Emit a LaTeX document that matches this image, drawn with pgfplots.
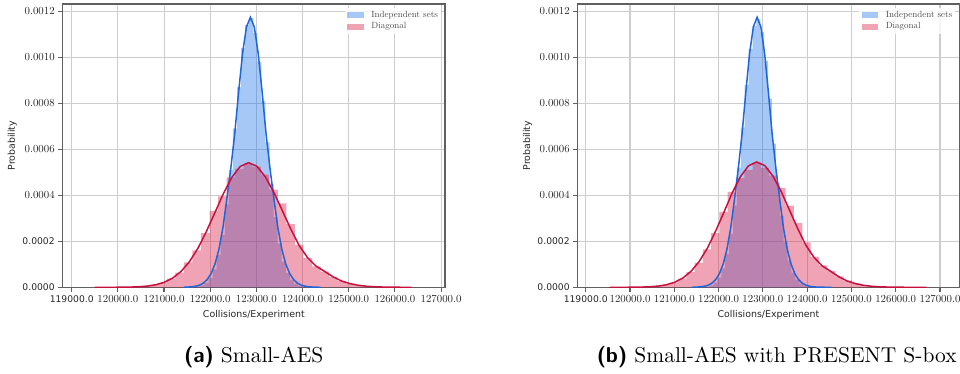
\documentclass[border=0pt]{standalone}
\usepackage{fontspec}
\usepackage{pgfplots}
\pgfplotsset{compat=1.18}
\newfontfamily\dejavu{DejaVu Sans}
\newfontfamily\lmten{lmroman10-regular.otf}
\newfontfamily\lmsansbf{lmsans10-bold.otf}
\definecolor{hblue}{HTML}{2075EB}
\definecolor{hpink}{HTML}{D91943}
\definecolor{lblue}{HTML}{1F66D6}
\definecolor{lred}{HTML}{C8103E}
\definecolor{gridgray}{HTML}{CDCDCD}
\definecolor{spine}{HTML}{606060}

\pgfplotstableread{
x y
121700 0.0000035
121788 0.0000085
121876 0.0000190
121964 0.0000400
122052 0.0000780
122140 0.0001400
122228 0.0002280
122316 0.0003600
122404 0.0005100
122492 0.0006900
122580 0.0008700
122668 0.0010400
122756 0.0011400
122844 0.0011700
122932 0.0011050
123020 0.0009800
123108 0.0008100
123196 0.0006300
123284 0.0004500
123372 0.0003050
123460 0.0001900
123548 0.0001120
123636 0.0000620
123724 0.0000320
123812 0.0000160
123900 0.0000075
123988 0.0000032
124076 0.0000012
124164 0
}\histblueA

\pgfplotstableread{
x y
120135 0.0000010
120320 0.0000022
120505 0.0000048
120690 0.0000100
120875 0.0000190
121060 0.0000380
121245 0.0000640
121430 0.0001080
121615 0.0001600
121800 0.0002350
121985 0.0003320
122170 0.0003950
122355 0.0004780
122540 0.0005150
122725 0.0005380
122910 0.0005250
123095 0.0004900
123280 0.0004250
123465 0.0003650
123650 0.0002750
123835 0.0001850
124020 0.0001280
124205 0.0000910
124390 0.0000680
124575 0.0000450
124760 0.0000270
124945 0.0000160
125130 0.0000085
125315 0.0000045
125500 0.0000020
125685 0.0000010
125870 0
}\histpinkA

\pgfplotstableread{
x y
121425 0
121452 0.0000004
121510 0.0000009
121595 0.0000020
121680 0.0000044
121765 0.0000091
121850 0.0000179
121935 0.0000337
122020 0.0000598
122105 0.0001020
122190 0.0001660
122275 0.0002590
122360 0.0003840
122445 0.0005160
122530 0.0006660
122615 0.0008480
122700 0.0010160
122785 0.0011320
122870 0.0011740
122955 0.0011320
123040 0.0010160
123125 0.0008480
123210 0.0006660
123295 0.0005160
123380 0.0003840
123465 0.0002590
123550 0.0001660
123635 0.0001020
123720 0.0000598
123805 0.0000337
123890 0.0000179
123975 0.0000091
124060 0.0000044
124145 0.0000020
124230 0.0000009
124315 0.0000003
124389 0
}\kdeblueA

\pgfplotstableread{
x y
119504 0
119910 0.0000001
120092.5 0.0000004
120275 0.0000010
120457.5 0.0000024
120640 0.0000053
120822.5 0.0000111
121005 0.0000218
121187.5 0.0000402
121370 0.0000692
121552.5 0.0001120
121735 0.0001700
121917.5 0.0002430
122100 0.0003240
122282.5 0.0004060
122465 0.0004770
122647.5 0.0005250
122830 0.0005420
123012.5 0.0005260
123195 0.0004800
123377.5 0.0004130
123560 0.0003340
123742.5 0.0002540
123925 0.0001820
124107.5 0.0001290
124290 0.0000923
124472.5 0.0000697
124655 0.0000462
124837.5 0.0000280
125020 0.0000163
125202.5 0.0000089
125385 0.0000046
125567.5 0.0000023
125750 0.0000011
125932.5 0.0000005
126115 0.0000002
126297.5 0.0000001
126360 0
}\kdepinkA

\pgfplotstableread{
x y
121710 0.0000030
121798 0.0000080
121886 0.0000200
121974 0.0000420
122062 0.0000820
122150 0.0001450
122238 0.0002320
122326 0.0003550
122414 0.0005200
122502 0.0006950
122590 0.0008800
122678 0.0010350
122766 0.0011350
122854 0.0011650
122942 0.0011100
123030 0.0009850
123118 0.0008200
123206 0.0006250
123294 0.0004550
123382 0.0003100
123470 0.0001950
123558 0.0001150
123646 0.0000640
123734 0.0000330
123822 0.0000165
123910 0.0000078
123998 0.0000034
124086 0.0000014
124174 0
}\histblueB

\pgfplotstableread{
x y
120150 0.0000010
120337 0.0000022
120524 0.0000050
120711 0.0000100
120898 0.0000200
121085 0.0000380
121272 0.0000660
121459 0.0001060
121646 0.0001650
121833 0.0002350
122020 0.0003280
122207 0.0004150
122394 0.0004750
122581 0.0005100
122768 0.0005420
122955 0.0005200
123142 0.0004850
123329 0.0004320
123516 0.0003550
123703 0.0002800
123890 0.0001950
124077 0.0001320
124264 0.0000950
124451 0.0000700
124638 0.0000470
124825 0.0000285
125012 0.0000170
125199 0.0000090
125386 0.0000048
125573 0.0000022
125760 0.0000010
125947 0
}\histpinkB

\pgfplotstableread{
x y
121393 0
121452 0.0000004
121510 0.0000009
121595 0.0000020
121680 0.0000044
121765 0.0000091
121850 0.0000179
121935 0.0000337
122020 0.0000598
122105 0.0001020
122190 0.0001660
122275 0.0002590
122360 0.0003840
122445 0.0005160
122530 0.0006660
122615 0.0008480
122700 0.0010160
122785 0.0011320
122870 0.0011740
122955 0.0011320
123040 0.0010160
123125 0.0008480
123210 0.0006660
123295 0.0005160
123380 0.0003840
123465 0.0002590
123550 0.0001660
123635 0.0001020
123720 0.0000598
123805 0.0000337
123890 0.0000179
123975 0.0000091
124060 0.0000044
124145 0.0000020
124230 0.0000009
124315 0.0000003
124555 0
}\kdeblueB

\pgfplotstableread{
x y
119540 0
119900 0.0000001
120085 0.0000004
120270 0.0000010
120455 0.0000024
120640 0.0000053
120825 0.0000112
121010 0.0000220
121195 0.0000405
121380 0.0000698
121565 0.0001130
121750 0.0001710
121935 0.0002450
122120 0.0003260
122305 0.0004090
122490 0.0004800
122675 0.0005280
122860 0.0005450
123045 0.0005290
123230 0.0004830
123415 0.0004160
123600 0.0003360
123785 0.0002560
123970 0.0001830
124155 0.0001300
124340 0.0000930
124525 0.0000702
124710 0.0000465
124895 0.0000282
125080 0.0000164
125265 0.0000090
125450 0.0000046
125635 0.0000023
125820 0.0000011
126005 0.0000005
126190 0.0000002
126375 0.0000001
126700 0
}\kdepinkB

\pgfplotsset{
  chart/.style={
    scale only axis, height=283.3pt,
    ymin=0, ymax=0.0012317,
    grid=major, major grid style={line width=1.05pt, color=gridgray},
    axis line style={line width=1.3pt, color=spine},
    tick align=outside, major tick length=4.5pt,
    major tick style={line width=1.1pt, color=spine},
    xtick pos=left, ytick pos=left,
    xtick={119000,120000,121000,122000,123000,124000,125000,126000,127000},
    ytick={0,0.0002,0.0004,0.0006,0.0008,0.0010,0.0012},
    scaled x ticks=false, scaled y ticks=false,
    xticklabels={{\fontsize{9.2}{11}\dejavu 119000.0},120000.0,121000.0,122000.0,123000.0,124000.0,125000.0,126000.0,127000.0},
    yticklabels={{\fontsize{9.2}{11}\dejavu 0.0000},{\fontsize{9.2}{11}\dejavu 0.0002},0.0004,0.0006,0.0008,0.0010,0.0012},
    tick label style={font={\fontsize{10.8}{13}\lmten}, text=black!85},
    xlabel={\fontsize{9.4}{11}\dejavu Collisions/Experiment},
    ylabel={\rotatebox{90}{\fontsize{9.4}{11}\dejavu Probability}},
    every axis x label/.style={at={(rel axis cs:0.5,0)}, anchor=center, yshift=-27.4pt, text=black!85},
    every axis y label/.style={at={(rel axis cs:0,0.5)}, anchor=center, xshift=-50.3pt, text=black!85},
    legend style={at={(rel axis cs:1,1)}, anchor=north east, xshift=-4pt, yshift=-4pt,
      draw=none, fill=white, fill opacity=0.8, text opacity=1, inner sep=2.5pt,
      font={\fontsize{9}{10}\lmten}, text=black!70, row sep=2.4pt,
      nodes={inner sep=0.5pt, text height=6.3pt, text depth=1.8pt},
      /tikz/every odd column/.append style={column sep=7pt}},
    legend cell align=left,
  },
  hist/.style={const plot, draw=none, fill=#1, fill opacity=0.4,
    legend image code/.code={\fill[fill=#1, fill opacity=0.4] (0pt,-2.85pt) rectangle (16.7pt,2.85pt);}},
}

\begin{document}
\begin{tikzpicture}
\useasboundingbox (0pt,0pt) rectangle (960pt,374pt);
\begin{axis}[chart, width=382.3pt, at={(62.7pt,86.7pt)}, anchor=south west,
  xmin=118805, xmax=127085]
\addplot[hist=hblue] table {\histblueA} \closedcycle;
\addlegendentry{Independent sets}
\addplot[hist=hpink] table {\histpinkA} \closedcycle;
\addlegendentry{Diagonal}
\addplot[forget plot, lblue, line width=1.5pt] table {\kdeblueA};
\addplot[forget plot, lred, line width=1.5pt] table {\kdepinkA};
\end{axis}
\begin{axis}[chart, width=381.6pt, at={(577.7pt,86.7pt)}, anchor=south west,
  xmin=118819, xmax=127436]
\addplot[hist=hblue] table {\histblueB} \closedcycle;
\addlegendentry{Independent sets}
\addplot[hist=hpink] table {\histpinkB} \closedcycle;
\addlegendentry{Diagonal}
\addplot[forget plot, lblue, line width=1.5pt] table {\kdeblueB};
\addplot[forget plot, lred, line width=1.5pt] table {\kdepinkB};
\end{axis}
\node[anchor=base, inner sep=0pt] at (253.7pt,11.3pt) {\fontsize{21.5}{26}\lmten{\lmsansbf (a)} Small-AES};
\node[anchor=base, inner sep=0pt] at (776.7pt,11.3pt) {\fontsize{21.5}{26}\lmten{\lmsansbf (b)} Small-AES with PRESENT S-box};
\end{tikzpicture}
\end{document}
